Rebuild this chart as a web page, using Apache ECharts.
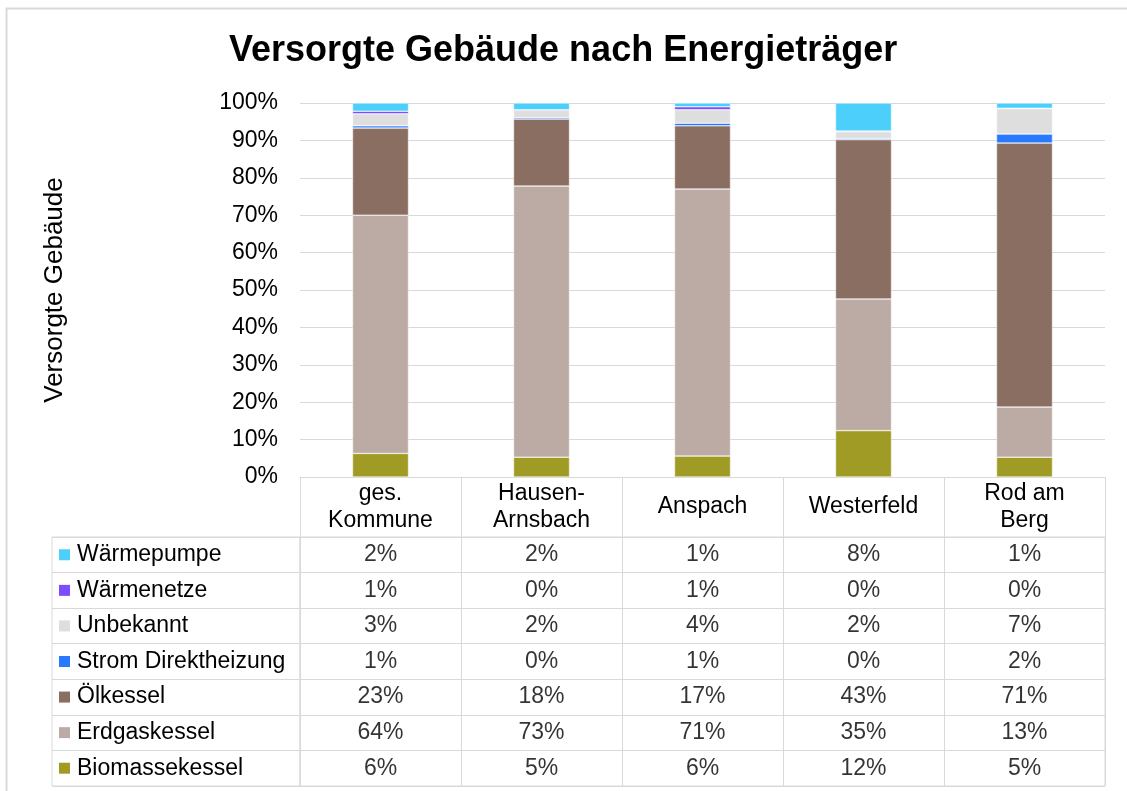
<!DOCTYPE html>
<html lang="de">
<head>
    <meta charset="UTF-8">
    <title>Versorgte Gebäude</title>
    <script type="text/javascript" src="https://cdn.jsdelivr.net/npm/echarts@6/dist/echarts.min.js"></script>
    <style>
        body { margin: 0; background: #fff; }
    </style>
</head>
<body>
<div id="chartmain" style="width:1127px;height:791px"></div>
<script>
    // Ortsteile (x-Achse)
    var categories = ['ges.\nKommune', 'Hausen-\nArnsbach', 'Anspach', 'Westerfeld', 'Rod am\nBerg'];
    // Energieträger von unten nach oben
    var carriers = ['Biomassekessel', 'Erdgaskessel', 'Ölkessel', 'Strom Direktheizung', 'Unbekannt', 'Wärmenetze', 'Wärmepumpe'];
    var colors = ['#a09b24', '#bcaba4', '#8b6e62', '#2979ff', '#dedede', '#7c4dff', '#4dcffb'];

    // Anteile in %
    var biomasse  = [6.3, 5.3, 5.6, 12.4, 5.3];
    var erdgas    = [63.7, 72.5, 71.4, 35.2, 13.4];
    var oel       = [23.3, 17.9, 16.9, 42.6, 70.6];
    var strom     = [0.6, 0.4, 0.7, 0.3, 2.4];
    var unbekannt = [3.2, 1.9, 3.6, 1.8, 6.8];
    var netze     = [0.7, 0.2, 0.8, 0.2, 0.1];
    var pumpe     = [2.2, 1.8, 1.0, 7.5, 1.4];
    var values = [biomasse, erdgas, oel, strom, unbekannt, netze, pumpe];

    var yTicks = [0, 10, 20, 30, 40, 50, 60, 70, 80, 90, 100];

    var lineColor = '#d9d9d9';
    var font = 'Liberation Sans';
    var fs = 23;

    var series = [];
    for (var i = 0; i < carriers.length; i++) {
        series.push({
            name: carriers[i],
            type: 'bar',
            stack: 'total',
            barWidth: 56,
            xAxisIndex: 0,
            yAxisIndex: 0,
            itemStyle: {color: colors[i], borderColor: '#ffffff', borderWidth: 0.5},
            data: values[i]
        });
    }

    // Datentabelle unter dem Diagramm
    var cells = [];
    for (var s = 0; s < carriers.length; s++) {
        for (var c = 0; c < categories.length; c++) {
            cells.push([c, s, values[s][c]]);
        }
    }
    series.push({
        type: 'scatter',
        xAxisIndex: 1,
        yAxisIndex: 1,
        symbolSize: 1,
        itemStyle: {color: 'transparent'},
        label: {
            show: true,
            position: 'inside',
            fontSize: fs,
            fontFamily: font,
            color: '#000',
            formatter: function (p) { return Math.round(p.value[2]) + '%'; }
        },
        data: cells
    });

    var rich = {t: {fontSize: fs, fontFamily: font, color: '#000', padding: [0, 0, 0, 7]}};
    for (var k = 0; k < colors.length; k++) {
        rich['m' + k] = {width: 11, height: 11, backgroundColor: colors[k]};
    }

    var option = {
        animation: false,
        textStyle: {fontFamily: font},
        title: {
            text: 'Versorgte Gebäude nach Energieträger',
            left: 224,
            top: 28,
            textStyle: {fontSize: 36, fontWeight: 'bold', color: '#000', fontFamily: font}
        },
        graphic: [{
            type: 'rect',
            shape: {x: 6.5, y: 8.5, width: 1150, height: 800},
            style: {fill: 'none', stroke: lineColor, lineWidth: 2}
        }],
        grid: [
            {left: 300, right: 22, top: 103, height: 374},
            {left: 300, right: 22, top: 537, height: 249, show: true, borderColor: lineColor, borderWidth: 1},
            {left: 52, width: 248, top: 537, height: 249, show: true, borderColor: lineColor, borderWidth: 1}
        ],
        xAxis: [
            {
                type: 'category',
                gridIndex: 0,
                data: categories,
                axisLine: {lineStyle: {color: lineColor}},
                axisTick: {show: true, length: 60, interval: 0, lineStyle: {color: lineColor}},
                axisLabel: {
                    interval: 0, fontSize: fs, color: '#000', lineHeight: 27,
                    verticalAlign: 'middle', margin: 30
                }
            },
            {
                type: 'category',
                gridIndex: 1,
                data: categories,
                axisLine: {show: false},
                axisTick: {show: false},
                axisLabel: {show: false},
                splitLine: {show: true, interval: 0, lineStyle: {color: lineColor}}
            },
            {
                type: 'value',
                gridIndex: 2,
                min: 0,
                max: 1,
                show: false
            }
        ],
        yAxis: [
            {
                type: 'value',
                gridIndex: 0,
                min: yTicks[0],
                max: yTicks[yTicks.length - 1],
                interval: 10,
                name: 'Versorgte Gebäude',
                nameLocation: 'middle',
                nameGap: 232,
                nameRotate: 90,
                nameTextStyle: {fontSize: 26, color: '#000', fontFamily: font},
                axisLine: {show: false},
                axisTick: {show: false},
                axisLabel: {formatter: '{value}%', fontSize: fs, color: '#000', margin: 22},
                splitLine: {lineStyle: {color: lineColor}}
            },
            {
                type: 'category',
                gridIndex: 1,
                data: carriers,
                axisLine: {show: false},
                axisTick: {show: false},
                axisLabel: {show: false},
                splitLine: {show: true, interval: 0, lineStyle: {color: lineColor}}
            },
            {
                type: 'category',
                gridIndex: 2,
                data: carriers,
                axisLine: {show: false},
                axisTick: {show: false},
                splitLine: {show: true, interval: 0, lineStyle: {color: lineColor}},
                axisLabel: {
                    inside: true,
                    interval: 0,
                    margin: 7,
                    formatter: function (v, idx) { return '{m' + idx + '|}{t|' + v + '}'; },
                    rich: rich
                }
            }
        ],
        series: series
    };

    var myChart = echarts.init(document.getElementById('chartmain'));
    myChart.setOption(option);
</script>
</body>
</html>
